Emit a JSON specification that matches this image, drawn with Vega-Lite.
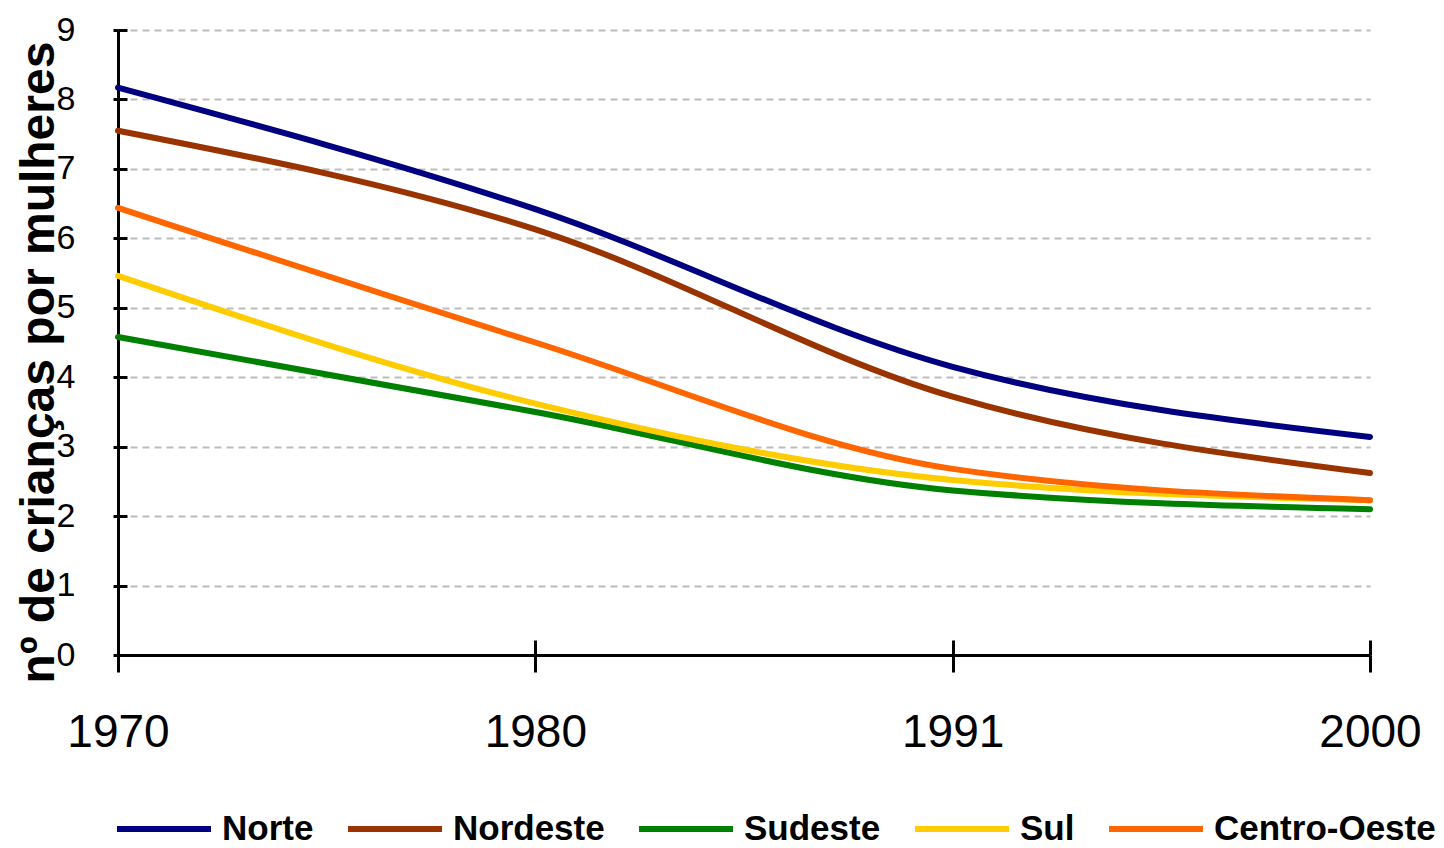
{
  "$schema": "https://vega.github.io/schema/vega-lite/v6.json",
  "width": 1252,
  "height": 625,
  "autosize": {"type": "none"},
  "padding": {"left": 118, "top": 30, "right": 74, "bottom": 193},
  "background": "white",
  "config": {"view": {"stroke": null}, "font": "Liberation Sans"},
  "data": {
    "values": [
      {"year": "1970", "region": "Norte", "value": 8.17},
      {"year": "1980", "region": "Norte", "value": 6.42},
      {"year": "1991", "region": "Norte", "value": 4.15},
      {"year": "2000", "region": "Norte", "value": 3.14},
      {"year": "1970", "region": "Nordeste", "value": 7.55},
      {"year": "1980", "region": "Nordeste", "value": 6.13},
      {"year": "1991", "region": "Nordeste", "value": 3.72},
      {"year": "2000", "region": "Nordeste", "value": 2.62},
      {"year": "1970", "region": "Sudeste", "value": 4.58},
      {"year": "1980", "region": "Sudeste", "value": 3.5},
      {"year": "1991", "region": "Sudeste", "value": 2.37},
      {"year": "2000", "region": "Sudeste", "value": 2.1},
      {"year": "1970", "region": "Sul", "value": 5.46},
      {"year": "1980", "region": "Sul", "value": 3.62},
      {"year": "1991", "region": "Sul", "value": 2.52},
      {"year": "2000", "region": "Sul", "value": 2.23},
      {"year": "1970", "region": "Centro-Oeste", "value": 6.44},
      {"year": "1980", "region": "Centro-Oeste", "value": 4.5},
      {"year": "1991", "region": "Centro-Oeste", "value": 2.68},
      {"year": "2000", "region": "Centro-Oeste", "value": 2.23}
    ]
  },
  "layer": [
    {
      "mark": {"type": "line", "opacity": 0},
      "encoding": {
        "x": {
          "field": "year", "type": "ordinal", "sort": null,
          "scale": {"type": "point", "padding": 0},
          "axis": {"orient": "bottom", "labels": false, "domain": false, "grid": false, "tickSize": -15, "tickWidth": 3, "tickColor": "black", "title": null}
        },
        "y": {
          "field": "value", "type": "quantitative",
          "scale": {"domain": [0, 9], "nice": false, "zero": true},
          "axis": {"orient": "left", "labels": false, "domain": false, "grid": false, "tickSize": -9, "tickWidth": 3, "tickColor": "black", "values": [0,1,2,3,4,5,6,7,8,9], "title": null}
        },
        "detail": {"field": "region"}
      }
    },
    {
      "mark": {"type": "line", "interpolate": "monotone", "strokeWidth": 6, "strokeCap": "round"},
      "encoding": {
        "x": {
          "field": "year", "type": "ordinal", "sort": null,
          "scale": {"type": "point", "padding": 0},
          "axis": {
            "orient": "bottom", "title": null, "labelAngle": 0,
            "domain": true, "domainColor": "black", "domainWidth": 3,
            "tickSize": 17, "tickWidth": 3, "tickColor": "black",
            "labelFont": "Liberation Sans", "labelFontSize": 46, "labelColor": "black",
            "labelPadding": 38, "grid": false
          }
        },
        "y": {
          "field": "value", "type": "quantitative",
          "scale": {"domain": [0, 9], "nice": false, "zero": true},
          "axis": {
            "orient": "left", "values": [0,1,2,3,4,5,6,7,8,9],
            "domain": true, "domainColor": "black", "domainWidth": 3,
            "tickSize": 5, "tickWidth": 3, "tickColor": "black",
            "labelFont": "Liberation Sans", "labelFontSize": 34, "labelColor": "black", "labelPadding": 38,
            "grid": true, "gridColor": "#BDBDBD", "gridWidth": 2, "gridDash": [7, 5],
            "title": "nº de crianças por mulheres",
            "titleFont": "Liberation Sans", "titleFontSize": 48, "titleFontWeight": "bold", "titleColor": "black",
            "titleAngle": -90, "titleBaseline": "alphabetic", "titleAlign": "center",
            "titleX": -65, "titleY": 332
          }
        },
        "color": {
          "field": "region", "type": "nominal",
          "scale": {
            "domain": ["Norte", "Nordeste", "Sudeste", "Sul", "Centro-Oeste"],
            "range": ["#000080", "#993300", "#008000", "#FFCC00", "#FF6600"]
          },
          "legend": {
            "orient": "none", "legendX": -4, "legendY": 749,
            "direction": "horizontal", "columns": 5, "title": null,
            "symbolType": "stroke", "symbolSize": 8836, "symbolStrokeWidth": 6,
            "labelFont": "Liberation Sans", "labelFontSize": 35, "labelFontWeight": "bold", "labelColor": "black",
            "labelLimit": 400, "labelOffset": 8, "columnPadding": 22
          }
        }
      }
    }
  ],
  "resolve": {"axis": {"x": "independent", "y": "independent"}}
}
